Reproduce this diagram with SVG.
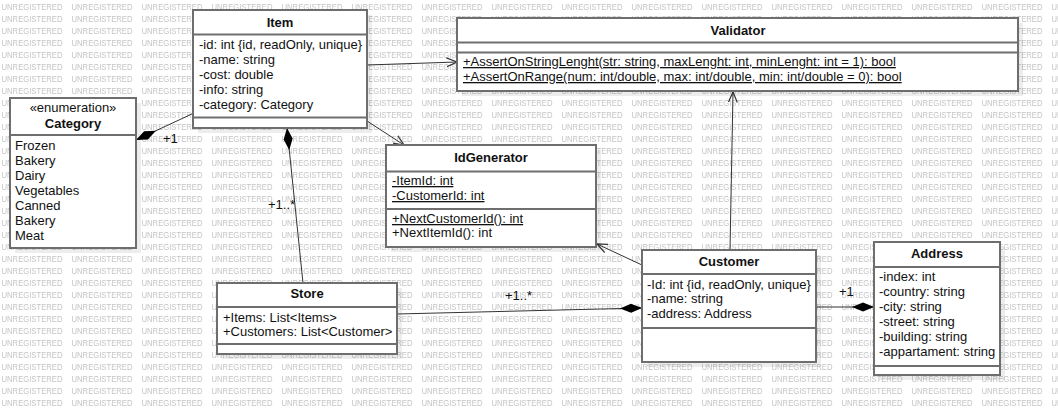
<svg xmlns="http://www.w3.org/2000/svg" width="1058" height="415" viewBox="0 0 1058 415">
<style>
  .box { fill: #ffffff; stroke: #6e6e6e; stroke-width: 2; }
  .sep { stroke: #6e6e6e; stroke-width: 2; }
  .shadow { fill: #000000; fill-opacity: 0.07; }
  .t { font-family: "Liberation Sans", Arial, sans-serif; font-size: 13px; fill: #111111; }
  .title { font-weight: bold; text-anchor: middle; }
  .ul { text-decoration: underline; }
  .conn { fill: none; stroke: #333333; stroke-width: 1; }
  .wm { font-family: "Liberation Sans", Arial, sans-serif; font-size: 8.5px; fill: #c4c4c4; }
</style>
<defs>
  <pattern id="wmPattern" x="0" y="0" width="70" height="12" patternUnits="userSpaceOnUse">
    <text class="wm" x="1.5" y="10" textLength="61" lengthAdjust="spacingAndGlyphs">UNREGISTERED</text>
  </pattern>
  <marker id="openArrow" viewBox="0 -5 11 10" refX="10.5" refY="0" markerWidth="11" markerHeight="10" markerUnits="userSpaceOnUse" orient="auto">
    <path d="M0,-4.5 L10.5,0 L0,4.5" fill="none" stroke="#333333" stroke-width="1.2"/>
  </marker>
  <marker id="diamond" viewBox="0 -5 23 10" refX="0" refY="0" markerWidth="23" markerHeight="10" markerUnits="userSpaceOnUse" orient="auto">
    <path d="M0,0 L11,-4.5 L22,0 L11,4.5 Z" fill="#000000" stroke="none"/>
  </marker>
</defs>

<rect x="0" y="0" width="1058" height="415" fill="#ffffff"/>
<rect id="watermark" x="0" y="0" width="1058" height="409" fill="url(#wmPattern)"/>

<g id="connectors">
  <path class="conn" d="M367,65 L457,62" marker-end="url(#openArrow)"/>
  <path class="conn" d="M367,121 L404,145" marker-end="url(#openArrow)"/>
  <path class="conn" d="M642,265 L597,244" marker-end="url(#openArrow)"/>
  <path class="conn" d="M730,250 L733,92" marker-end="url(#openArrow)"/>
  <path class="conn" d="M136,140 L194,113" marker-start="url(#diamond)"/>
  <path class="conn" d="M287,128 L303,283" marker-start="url(#diamond)"/>
  <path class="conn" d="M642,308 L397,314" marker-start="url(#diamond)"/>
  <path class="conn" d="M874,307 L816,307" marker-start="url(#diamond)"/>
  <text class="t" x="163" y="143">+1</text>
  <text class="t" x="268" y="209">+1..*</text>
  <text class="t" x="505" y="300">+1..*</text>
  <text class="t" x="839" y="296">+1</text>
</g>

<g id="item">
  <rect class="shadow" x="198" y="15" width="174" height="118"/>
  <rect class="box" x="193" y="10" width="174" height="118"/>
  <line class="sep" x1="193" y1="34.5" x2="367" y2="34.5"/>
  <line class="sep" x1="193" y1="117.5" x2="367" y2="117.5"/>
  <text class="t title" x="280" y="27">Item</text>
  <text class="t" x="199" y="49">-id: int {id, readOnly, unique}</text>
  <text class="t" x="199" y="64">-name: string</text>
  <text class="t" x="199" y="79">-cost: double</text>
  <text class="t" x="199" y="94">-info: string</text>
  <text class="t" x="199" y="109">-category: Category</text>
</g>

<g id="category">
  <rect class="shadow" x="15" y="103" width="126" height="150"/>
  <rect class="box" x="10" y="98" width="126" height="150"/>
  <line class="sep" x1="10" y1="135" x2="136" y2="135"/>
  <text class="t" x="73" y="112" text-anchor="middle">«enumeration»</text>
  <text class="t title" x="73" y="128">Category</text>
  <text class="t" x="15" y="150">Frozen</text>
  <text class="t" x="15" y="165">Bakery</text>
  <text class="t" x="15" y="180">Dairy</text>
  <text class="t" x="15" y="195">Vegetables</text>
  <text class="t" x="15" y="210">Canned</text>
  <text class="t" x="15" y="225">Bakery</text>
  <text class="t" x="15" y="240">Meat</text>
</g>

<g id="validator">
  <rect class="shadow" x="462" y="23" width="561" height="73"/>
  <rect class="box" x="457" y="18" width="561" height="73"/>
  <line class="sep" x1="457" y1="42.5" x2="1018" y2="42.5"/>
  <line class="sep" x1="457" y1="52.5" x2="1018" y2="52.5"/>
  <text class="t title" x="738" y="35">Validator</text>
  <text class="t ul" x="463" y="66">+AssertOnStringLenght(str: string, maxLenght: int, minLenght: int = 1): bool</text>
  <text class="t ul" x="463" y="81">+AssertOnRange(num: int/double, max: int/double, min: int/double = 0): bool</text>
</g>

<g id="idgenerator">
  <rect class="shadow" x="391" y="150" width="210" height="102"/>
  <rect class="box" x="386" y="145" width="210" height="102"/>
  <line class="sep" x1="386" y1="171.5" x2="596" y2="171.5"/>
  <line class="sep" x1="386" y1="209" x2="596" y2="209"/>
  <text class="t title" x="491" y="162">IdGenerator</text>
  <text class="t ul" x="392" y="185">-ItemId: int</text>
  <text class="t ul" x="392" y="200">-CustomerId: int</text>
  <text class="t ul" x="392" y="223">+NextCustomerId(): int</text>
  <text class="t" x="392" y="237">+NextItemId(): int</text>
</g>

<g id="store">
  <rect class="shadow" x="222" y="288" width="180" height="71"/>
  <rect class="box" x="217" y="283" width="180" height="71"/>
  <line class="sep" x1="217" y1="307" x2="397" y2="307"/>
  <line class="sep" x1="217" y1="344" x2="397" y2="344"/>
  <text class="t title" x="307" y="298">Store</text>
  <text class="t" x="223" y="322">+Items: List&lt;Items&gt;</text>
  <text class="t" x="223" y="336">+Customers: List&lt;Customer&gt;</text>
</g>

<g id="customer">
  <rect class="shadow" x="647" y="255" width="174" height="112"/>
  <rect class="box" x="642" y="250" width="174" height="112"/>
  <line class="sep" x1="642" y1="274" x2="816" y2="274"/>
  <line class="sep" x1="642" y1="328" x2="816" y2="328"/>
  <text class="t title" x="729" y="266">Customer</text>
  <text class="t" x="647" y="289">-Id: int {id, readOnly, unique}</text>
  <text class="t" x="647" y="303">-name: string</text>
  <text class="t" x="647" y="318">-address: Address</text>
</g>

<g id="address">
  <rect class="shadow" x="879" y="247" width="126" height="133"/>
  <rect class="box" x="874" y="242" width="126" height="133"/>
  <line class="sep" x1="874" y1="267" x2="1000" y2="267"/>
  <line class="sep" x1="874" y1="366" x2="1000" y2="366"/>
  <text class="t title" x="937" y="258">Address</text>
  <text class="t" x="879" y="281">-index: int</text>
  <text class="t" x="879" y="296">-country: string</text>
  <text class="t" x="879" y="311">-city: string</text>
  <text class="t" x="879" y="326">-street: string</text>
  <text class="t" x="879" y="341">-building: string</text>
  <text class="t" x="879" y="356">-appartament: string</text>
</g>
</svg>
